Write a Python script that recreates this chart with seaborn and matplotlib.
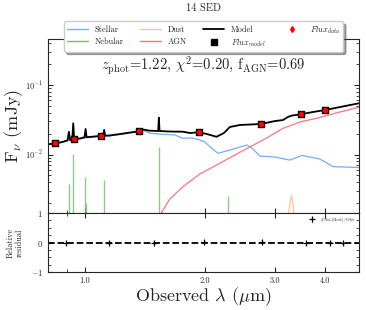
import numpy as np
import pandas as pd
import matplotlib
matplotlib.use('Agg')
import matplotlib.pyplot as plt
import matplotlib.ticker as mticker
from matplotlib.lines import Line2D
import seaborn as sns

sns.set_style('ticks')
plt.rcParams['font.family'] = 'serif'
plt.rcParams['font.serif'] = ['cmr10', 'DejaVu Serif']
plt.rcParams['mathtext.fontset'] = 'cm'
plt.rcParams['axes.unicode_minus'] = False
plt.rcParams['axes.formatter.use_mathtext'] = True

# model (black), with emission-line spikes
model_wl = [0.808, 0.841, 0.876, 0.905, 0.912, 0.918, 0.930, 0.935, 0.940, 0.971, 0.998, 1.004,
            1.010, 1.029, 1.090, 1.112, 1.118, 1.124, 1.155, 1.224, 1.297, 1.366, 1.398, 1.455,
            1.527, 1.533, 1.539, 1.634, 1.761, 1.834, 1.932, 2.023, 2.139, 2.232, 2.310, 2.448,
            2.593, 2.764, 2.996, 3.138, 3.230, 3.306, 3.475, 3.732, 4.006, 4.361, 4.866]
model_fl = [0.0140, 0.0145, 0.0151, 0.0160, 0.0213, 0.0162, 0.0166, 0.0281, 0.0167, 0.0170, 0.0177, 0.0233,
            0.0178, 0.0179, 0.0185, 0.0186, 0.0226, 0.0187, 0.0188, 0.0197, 0.0207, 0.0216, 0.0229, 0.0220,
            0.0218, 0.0339, 0.0218, 0.0214, 0.0213, 0.0204, 0.0209, 0.0197, 0.0180, 0.0204, 0.0249, 0.0266,
            0.0270, 0.0275, 0.0303, 0.0313, 0.0347, 0.0364, 0.0379, 0.0409, 0.0437, 0.0482, 0.0546]

# stellar continuum (blue)
stellar_wl = [0.808, 0.841, 0.876, 0.912, 0.940, 0.971, 1.029, 1.090, 1.155, 1.224, 1.297, 1.366,
              1.398, 1.455, 1.542, 1.682, 1.761, 1.855, 1.943, 2.000, 2.058, 2.156, 2.310, 2.448,
              2.549, 2.624, 2.748, 2.996, 3.267, 3.502, 3.667, 3.885, 4.188, 4.487, 4.866]
stellar_fl = [0.0138, 0.0143, 0.0149, 0.0159, 0.0165, 0.0168, 0.0176, 0.0182, 0.0185, 0.0194, 0.0204, 0.0212,
              0.0224, 0.0202, 0.0197, 0.0191, 0.0171, 0.0173, 0.0162, 0.0151, 0.0130, 0.0104, 0.0116, 0.0128,
              0.0137, 0.0124, 0.0095, 0.0092, 0.0083, 0.0097, 0.0092, 0.0086, 0.0067, 0.0066, 0.0065]

# AGN component (red)
agn_wl = [1.551, 1.634, 1.761, 1.943, 2.139, 2.351, 2.593, 2.828, 3.138, 3.461, 3.812, 4.361, 4.866]
agn_fl = [0.00141, 0.00229, 0.00344, 0.00524, 0.00706, 0.00951, 0.0129, 0.0167, 0.0238, 0.0294, 0.0332, 0.0409, 0.0478]

# dust component (orange)
dust_wl = [3.224, 3.265, 3.299, 3.325, 3.350]
dust_fl = [0.0012, 0.0019, 0.00261, 0.0019, 0.0012]

# nebular lines (green)
neb_wl = [0.910, 0.935, 1.002, 1.008, 1.116, 1.533, 2.288]
neb_fl = [0.00377, 0.0102, 0.0048, 0.00199, 0.0043, 0.0129, 0.00253]

# photometry
phot_wl = [0.841, 0.940, 1.095, 1.366, 1.932, 2.764, 3.475, 4.006]
phot_data = [0.0145, 0.0167, 0.0185, 0.0216, 0.0211, 0.0275, 0.0379, 0.0437]
phot_model = [0.0145, 0.0167, 0.0184, 0.0217, 0.0210, 0.0274, 0.0380, 0.0437]

# residuals
res_wl = [0.896, 1.149, 1.490, 1.988, 2.780, 3.584, 4.117, 4.437]
res_val = [0.0, -0.02, -0.03, 0.02, 0.03, 0.0, -0.01, -0.01]

c_stellar = (0.45, 0.68, 1.0)
c_neb = (0.45, 0.75, 0.45)
c_dust = (1.0, 0.78, 0.6)
c_agn = (1.0, 0.45, 0.5)

fig = plt.figure(figsize=(3.66, 3.10), dpi=100)
ax = fig.add_axes([0.131, 0.313, 0.850, 0.561])
axr = fig.add_axes([0.131, 0.1226, 0.850, 0.190], sharex=ax)

ax.vlines(neb_wl, 1e-4, neb_fl, color=c_neb, lw=1.0, alpha=0.8)
sns.lineplot(x=stellar_wl, y=stellar_fl, ax=ax, color=c_stellar, lw=0.9, sort=False, estimator=None)
sns.lineplot(x=agn_wl, y=agn_fl, ax=ax, color=c_agn, lw=0.9, sort=False, estimator=None)
sns.lineplot(x=dust_wl, y=dust_fl, ax=ax, color=c_dust, lw=0.9, sort=False, estimator=None)
sns.lineplot(x=model_wl, y=model_fl, ax=ax, color='black', lw=1.3, sort=False, estimator=None)
ax.scatter(phot_wl, phot_model, marker='s', s=14, color='black', zorder=5)
ax.errorbar(phot_wl, phot_data, yerr=[v * 0.05 for v in phot_data], fmt='o', ms=3.0,
            color='red', ecolor='red', elinewidth=0.8, zorder=6)

ax.set_xscale('log')
ax.set_yscale('log')
ax.set_xlim(0.808, 4.87)
ax.set_ylim(0.00144, 0.459)
ax.set_ylabel(r'F$_\nu$ (mJy)', fontsize=13, labelpad=0)
ax.tick_params(axis='both', which='both', direction='in', top=True, right=True, labelsize=6)
ax.tick_params(axis='x', labelbottom=False)
ax.set_title('14 SED', fontsize=7.5, pad=20)
ax.text(0.5, 0.845, r'$z_{\rm phot}$=1.22, $\chi^2$=0.20, f$_{\rm AGN}$=0.69',
        transform=ax.transAxes, ha='center', va='center', fontsize=10.5)

handles = [
    Line2D([], [], color=c_stellar, lw=1),
    Line2D([], [], color=c_neb, lw=1),
    Line2D([], [], color=c_dust, lw=1),
    Line2D([], [], color=c_agn, lw=1),
    Line2D([], [], color='black', lw=1.3),
    Line2D([], [], color='black', marker='s', ls='none', ms=4),
    Line2D([], [], color='red', marker='d', ls='none', ms=3),
]
labels = ['Stellar', 'Nebular', 'Dust', 'AGN', 'Model', r'$Flux_{model}$', r'$Flux_{data}$']
ax.legend(handles, labels, ncol=4, loc='upper center', bbox_to_anchor=(0.5, 1.125),
          fontsize=6, fancybox=True, shadow=True, framealpha=1, columnspacing=2.0,
          handlelength=2.5, borderpad=0.35, labelspacing=0.35)

res_df = pd.DataFrame({'wl': res_wl, 'res': res_val})
axr.axhline(0, color='black', ls='--', lw=1.3)
axr.errorbar(res_df['wl'], res_df['res'], yerr=0.02, fmt='+', ms=5, color='black',
             elinewidth=0.6, mew=0.9, label='(Obs-Mod)/Obs')
axr.set_ylim(-1, 1)
axr.set_yticks([-1, 0, 1])
axr.yaxis.set_minor_locator(mticker.AutoMinorLocator(4))
axr.xaxis.set_major_locator(mticker.FixedLocator([1, 2, 3, 4]))
axr.xaxis.set_major_formatter(mticker.FixedFormatter(['1.0', '2.0', '3.0', '4.0']))
axr.xaxis.set_minor_formatter(mticker.NullFormatter())
axr.tick_params(axis='both', which='both', direction='in', top=True, right=True, labelsize=6)
axr.set_ylabel('Relative\nresidual', fontsize=6, labelpad=5)
axr.set_xlabel(r'Observed $\lambda$ ($\mu$m)', fontsize=13, labelpad=0)
axr.legend(loc='upper right', fontsize=3.5, frameon=False, handletextpad=0.8)

fig.savefig('out.png', dpi=100)
